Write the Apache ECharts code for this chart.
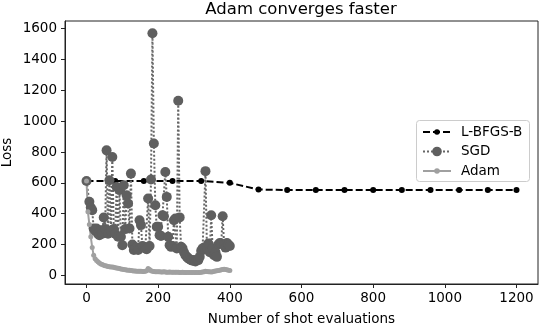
<!DOCTYPE html>
<html>
<head>
<meta charset="utf-8">
<script src="https://cdn.jsdelivr.net/npm/echarts@6/dist/echarts.min.js"></script>
<style>
html,body{margin:0;padding:0;background:#fff;}
#chart{width:541px;height:329px;}
</style>
</head>
<body>
<div id="chart"></div>
<script>
// ---- data ----
var xTicks = [0, 200, 400, 600, 800, 1000, 1200];
var yTicks = [0, 200, 400, 600, 800, 1000, 1200, 1400, 1600];

var lbfgsX = [0, 80, 160, 240, 320, 400, 480, 560, 640, 720, 800, 880, 960, 1040, 1120, 1200];
var lbfgsY = [612, 612, 612, 612, 612, 600, 557, 553, 553, 553, 553, 553, 553, 553, 553, 553];

var sgdX = [0, 8, 12, 16, 20, 24, 28, 32, 36, 40, 44, 48, 52, 56, 60, 64, 68, 72, 76, 80,
  84, 88, 92, 96, 100, 104, 108, 112, 116, 120, 124, 128, 132, 136, 140, 144, 148, 152, 156, 160,
  164, 168, 172, 176, 180, 184, 188, 192, 196, 200, 204, 208, 212, 216, 220, 224, 228, 232, 236, 240,
  244, 248, 252, 256, 260, 264, 268, 272, 276, 280, 284, 288, 292, 296, 300, 304, 308, 312, 316, 320,
  324, 328, 332, 336, 340, 344, 348, 352, 356, 360, 364, 368, 372, 376, 380, 384, 388, 392, 396, 400];
var sgdY = [612, 477, 440, 423, 304, 290, 304, 270, 260, 293, 270, 375, 300, 811, 270, 617, 290, 768, 300, 270,
  574, 250, 553, 250, 196, 585, 300, 520, 466, 304, 660, 200, 164, 170, 180, 165, 358, 326, 190, 185,
  175, 170, 499, 190, 622, 1571, 855, 455, 315, 315, 261, 255, 390, 384, 671, 509, 250, 196, 185, 190,
  358, 369, 175, 1133, 376, 185, 175, 150, 131, 120, 110, 105, 99, 95, 99, 90, 100, 99, 120, 160,
  175, 181, 676, 180, 207, 150, 390, 175, 131, 150, 120, 200, 210, 207, 384, 200, 180, 210, 200, 190];

var adamX = [0, 4, 8, 12, 16, 20, 24, 28, 32, 36, 40, 44, 48, 52, 56, 60, 64, 68, 72, 76,
  80, 84, 88, 92, 96, 100, 104, 108, 112, 116, 120, 124, 128, 132, 136, 140, 144, 148, 152, 156,
  160, 164, 168, 172, 176, 180, 184, 188, 192, 196, 200, 204, 208, 212, 216, 220, 224, 228, 232, 236,
  240, 244, 248, 252, 256, 260, 264, 268, 272, 276, 280, 284, 288, 292, 296, 300, 304, 308, 312, 316,
  320, 324, 328, 332, 336, 340, 344, 348, 352, 356, 360, 364, 368, 372, 376, 380, 384, 388, 392, 396, 400];
var adamY = [612, 412, 330, 250, 180, 130, 108, 96, 88, 80, 74, 70, 66, 63, 60, 58, 56, 55, 54, 52,
  50, 48, 46, 44, 42, 40, 38, 36, 35, 34, 33, 32, 30, 29, 28, 27, 27, 26, 26, 25,
  25, 26, 30, 45, 38, 30, 27, 25, 24, 24, 23, 23, 22, 22, 23, 22, 21, 21, 22, 21,
  20, 20, 21, 20, 20, 19, 19, 20, 19, 19, 18, 19, 19, 18, 18, 18, 19, 18, 18, 19,
  20, 22, 24, 26, 25, 24, 23, 22, 24, 26, 28, 30, 32, 34, 36, 38, 40, 38, 36, 34, 32];

function pairs(xs, ys) {
  var out = [];
  for (var i = 0; i < xs.length; i++) out.push([xs[i], ys[i]]);
  return out;
}

var FONT = 'DejaVu Sans';
function legendFor(name, top, iconH) {
  return {
    orient: 'vertical', left: 422, top: top, padding: 0, z: 10,
    itemWidth: 28, itemHeight: iconH, itemGap: 0,
    textStyle: {fontFamily: FONT, fontSize: 13.5, color: '#000', padding: [0, 0, 0, 5]},
    data: [name]
  };
}
var chart = echarts.init(document.getElementById('chart'), null, {renderer: 'canvas'});
chart.setOption({
  animation: false,
  backgroundColor: '#ffffff',
  title: {
    text: 'Adam converges faster',
    left: 301, top: 0, textAlign: 'center', padding: [1, 0, 0, 0],
    textStyle: {fontFamily: FONT, fontSize: 16.5, fontWeight: 'normal', color: '#000'}
  },
  graphic: [{
    type: 'rect', z: 5,
    shape: {x: 416.5, y: 120.5, width: 113, height: 61, r: 3},
    style: {fill: 'rgba(255,255,255,0.8)', stroke: '#cccccc', lineWidth: 1}
  }],
  legend: [
    legendFor('L-BFGS-B', 125, 7),
    legendFor('SGD', 144.5, 12),
    legendFor('Adam', 164, 7)
  ],
  grid: {
    left: 65, right: 3, top: 21, bottom: 45,
    show: true, borderColor: '#222', borderWidth: 1,
    containLabel: false, outerBoundsMode: 'none'
  },
  xAxis: {
    type: 'value', min: -60, max: 1260,
    name: 'Number of shot evaluations', nameLocation: 'middle', nameGap: 28,
    nameMoveOverlap: false,
    nameTextStyle: {fontFamily: FONT, fontSize: 13.5, color: '#000'},
    axisLine: {show: true, onZero: false, lineStyle: {color: '#222', width: 1}},
    axisTick: {show: true, length: 4, customValues: xTicks, lineStyle: {color: '#222'}},
    axisLabel: {customValues: xTicks, margin: 7, fontFamily: FONT, fontSize: 13.5, color: '#000',
      formatter: function (v) { return String(v); }},
    splitLine: {show: false}
  },
  yAxis: {
    type: 'value', min: -56, max: 1650,
    name: 'Loss', nameLocation: 'middle', nameGap: 51,
    nameMoveOverlap: false,
    nameTextStyle: {fontFamily: FONT, fontSize: 13.5, color: '#000'},
    axisLine: {show: true, onZero: false, lineStyle: {color: '#222', width: 1}},
    axisTick: {show: true, length: 4, customValues: yTicks, lineStyle: {color: '#222'}},
    axisLabel: {customValues: yTicks, margin: 8, fontFamily: FONT, fontSize: 13.5, color: '#000',
      formatter: function (v) { return String(v); }},
    splitLine: {show: false}
  },
  series: [
    {
      name: 'L-BFGS-B', type: 'line', data: pairs(lbfgsX, lbfgsY),
      symbol: 'circle', symbolSize: 6, showAllSymbol: true,
      lineStyle: {color: '#000', width: 2, type: [7, 3]},
      itemStyle: {color: '#000', borderWidth: 0}
    },
    {
      name: 'SGD', type: 'line', data: pairs(sgdX, sgdY),
      symbol: 'circle', symbolSize: 10, showAllSymbol: true,
      lineStyle: {color: '#666666', width: 2, type: [2, 2]},
      itemStyle: {color: '#5f5f5f', borderWidth: 0}
    },
    {
      name: 'Adam', type: 'line', data: pairs(adamX, adamY),
      symbol: 'circle', symbolSize: 5, showAllSymbol: true,
      lineStyle: {color: '#a0a0a0', width: 2},
      itemStyle: {color: '#a0a0a0', borderWidth: 0}
    }
  ]
});
</script>
</body>
</html>
